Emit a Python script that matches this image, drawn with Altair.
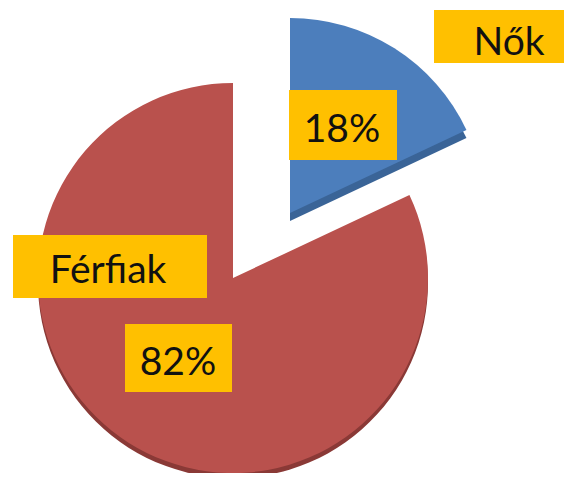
import math
import altair as alt
import pandas as pd

# data
categories = ["Nők", "Férfiak"]
values = [18, 82]
pct_labels = ["18%", "82%"]

starts = [0, values[0]]
ends = [values[0], values[0] + values[1]]
df = pd.DataFrame({"cat": categories, "val": values, "pct": pct_labels,
                   "start": starts, "end": ends})

theta_scale = alt.Scale(domain=[0, 100], range=[0, 2 * math.pi])
R = 195

base = alt.Chart(df)


def slice_layer(cat, cx, cy, color, dy):
    src = base.transform_filter(alt.datum.cat == cat)
    rim = src.mark_arc(color=color[1], stroke=None).encode(
        theta=alt.Theta("start:Q", scale=theta_scale),
        theta2="end:Q",
        radius=alt.value(R),
        x=alt.value(cx), y=alt.value(cy + dy))
    top = src.mark_arc(color=color[0], stroke=None).encode(
        theta=alt.Theta("start:Q", scale=theta_scale),
        theta2="end:Q",
        radius=alt.value(R),
        x=alt.value(cx), y=alt.value(cy))
    return rim + top


red = slice_layer("Férfiak", 225, 270, ("#B9514D", "#8A3936"), 5)
blue = slice_layer("Nők", 282, 205, ("#4C7EBC", "#3A6497"), 8)


def label(cat, field, box, tx, ty):
    src = base.transform_filter(alt.datum.cat == cat)
    rect = src.mark_rect(color="#FFC000").encode(
        x=alt.value(box[0]), x2=alt.value(box[1]),
        y=alt.value(box[2]), y2=alt.value(box[3]))
    txt = src.mark_text(font="Lato", fontSize=39, color="#111111",
                        align="center", baseline="alphabetic").encode(
        text=f"{field}:N", x=alt.value(tx), y=alt.value(ty))
    return rect + txt


labels = (label("Nők", "cat", (426, 563, 2, 55), 501, 47)
          + label("Nők", "pct", (281, 389, 82, 152), 334, 134)
          + label("Férfiak", "cat", (5, 199, 227, 290), 100, 275)
          + label("Férfiak", "pct", (117, 224, 316, 384), 170, 367))

chart = alt.layer(red, blue, labels).properties(
    width=556, height=465, autosize=alt.AutoSizeParams(type="none"),
    padding=0
).configure_view(stroke=None)

chart.save("out.html", embed_options={"renderer": "svg", "actions": False})
